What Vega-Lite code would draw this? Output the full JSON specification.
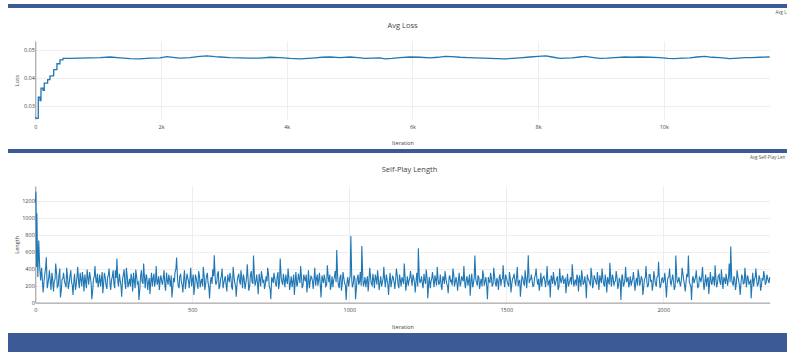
{
  "$schema": "https://vega.github.io/schema/vega-lite/v6.json",
  "background": "white",
  "padding": {"left": 8, "top": 4, "right": 0, "bottom": 0},
  "spacing": 0,
  "config": {
    "view": {"stroke": null},
    "font": "Open Sans",
    "title": {"font": "Open Sans", "fontSize": 7.5, "fontWeight": "normal", "color": "#444"},
    "axis": {
      "labelFont": "Open Sans", "titleFont": "Open Sans",
      "labelFontSize": 5.5, "titleFontSize": 5.5, "titleFontWeight": "normal",
      "labelColor": "#444", "titleColor": "#444",
      "gridColor": "#eeeeee", "gridWidth": 1,
      "ticks": false, "tickSize": 0,
      "domainColor": "#999999", "domainWidth": 1,
      "labelFlush": false, "labelOverlap": false
    }
  },
  "vconcat": [
    {
      "width": 779, "height": 4,
      "data": {"values": []},
      "mark": {"type": "text", "text": ""},
      "encoding": {},
      "view": {"fill": "#3C5A96", "stroke": null},
      "title": {"text": "Avg L", "orient": "bottom", "anchor": "start", "frame": "group", "dx": 767.5, "offset": 1.5, "fontSize": 4.5, "color": "#555"}
    },
    {
      "width": 779, "height": 78,
      "title": {"text": ["", "Avg Loss"], "lineHeight": 7.25, "offset": 12, "anchor": "middle", "frame": "group", "dx": 5},
      "data": {"values": [
        {"iter": 0, "loss": 0.0259}, {"iter": 18, "loss": 0.0255}, {"iter": 47, "loss": 0.0255}, {"iter": 48, "loss": 0.0331},
        {"iter": 74, "loss": 0.0331}, {"iter": 75, "loss": 0.0319}, {"iter": 90, "loss": 0.0319}, {"iter": 91, "loss": 0.0363},
        {"iter": 122, "loss": 0.0363}, {"iter": 123, "loss": 0.0355}, {"iter": 142, "loss": 0.0355}, {"iter": 143, "loss": 0.0381},
        {"iter": 196, "loss": 0.0381}, {"iter": 197, "loss": 0.0393}, {"iter": 233, "loss": 0.0393}, {"iter": 234, "loss": 0.0407},
        {"iter": 292, "loss": 0.0407}, {"iter": 293, "loss": 0.0429}, {"iter": 344, "loss": 0.0429}, {"iter": 345, "loss": 0.045},
        {"iter": 392, "loss": 0.045}, {"iter": 393, "loss": 0.0464}, {"iter": 440, "loss": 0.0464}, {"iter": 441, "loss": 0.0469},
        {"iter": 552, "loss": 0.0469}, {"iter": 711, "loss": 0.047}, {"iter": 870, "loss": 0.0471}, {"iter": 1029, "loss": 0.0472},
        {"iter": 1189, "loss": 0.0474}, {"iter": 1348, "loss": 0.0471}, {"iter": 1507, "loss": 0.0468}, {"iter": 1666, "loss": 0.0467},
        {"iter": 1825, "loss": 0.047}, {"iter": 1984, "loss": 0.0471}, {"iter": 2095, "loss": 0.0475}, {"iter": 2223, "loss": 0.0472},
        {"iter": 2302, "loss": 0.047}, {"iter": 2461, "loss": 0.0472}, {"iter": 2620, "loss": 0.0476}, {"iter": 2732, "loss": 0.0478},
        {"iter": 2859, "loss": 0.0475}, {"iter": 2939, "loss": 0.0474}, {"iter": 3098, "loss": 0.0472}, {"iter": 3257, "loss": 0.0471},
        {"iter": 3416, "loss": 0.047}, {"iter": 3575, "loss": 0.047}, {"iter": 3734, "loss": 0.0473}, {"iter": 3893, "loss": 0.0472},
        {"iter": 4052, "loss": 0.0469}, {"iter": 4211, "loss": 0.0467}, {"iter": 4339, "loss": 0.0469}, {"iter": 4450, "loss": 0.0471},
        {"iter": 4561, "loss": 0.0473}, {"iter": 4689, "loss": 0.0474}, {"iter": 4848, "loss": 0.0472}, {"iter": 5007, "loss": 0.0474},
        {"iter": 5134, "loss": 0.0472}, {"iter": 5246, "loss": 0.0469}, {"iter": 5357, "loss": 0.047}, {"iter": 5484, "loss": 0.0471},
        {"iter": 5564, "loss": 0.0467}, {"iter": 5675, "loss": 0.0469}, {"iter": 5802, "loss": 0.0472}, {"iter": 5962, "loss": 0.0474},
        {"iter": 6121, "loss": 0.0473}, {"iter": 6280, "loss": 0.0471}, {"iter": 6407, "loss": 0.0473}, {"iter": 6518, "loss": 0.0476},
        {"iter": 6630, "loss": 0.0475}, {"iter": 6757, "loss": 0.0473}, {"iter": 6884, "loss": 0.0472}, {"iter": 6996, "loss": 0.0471},
        {"iter": 7123, "loss": 0.047}, {"iter": 7234, "loss": 0.0469}, {"iter": 7346, "loss": 0.0468}, {"iter": 7473, "loss": 0.0467},
        {"iter": 7584, "loss": 0.0469}, {"iter": 7712, "loss": 0.0471}, {"iter": 7871, "loss": 0.0474}, {"iter": 7998, "loss": 0.0476},
        {"iter": 8125, "loss": 0.0478}, {"iter": 8221, "loss": 0.0474}, {"iter": 8348, "loss": 0.0469}, {"iter": 8428, "loss": 0.047},
        {"iter": 8539, "loss": 0.0471}, {"iter": 8666, "loss": 0.0474}, {"iter": 8746, "loss": 0.0476}, {"iter": 8857, "loss": 0.0473},
        {"iter": 8985, "loss": 0.0469}, {"iter": 9096, "loss": 0.047}, {"iter": 9223, "loss": 0.0472}, {"iter": 9382, "loss": 0.0474},
        {"iter": 9494, "loss": 0.0473}, {"iter": 9621, "loss": 0.0474}, {"iter": 9780, "loss": 0.0473}, {"iter": 9939, "loss": 0.0472},
        {"iter": 10066, "loss": 0.0469}, {"iter": 10178, "loss": 0.0468}, {"iter": 10289, "loss": 0.047}, {"iter": 10416, "loss": 0.0471},
        {"iter": 10527, "loss": 0.0474}, {"iter": 10654, "loss": 0.0476}, {"iter": 10766, "loss": 0.0473}, {"iter": 10893, "loss": 0.0472},
        {"iter": 11052, "loss": 0.0468}, {"iter": 11179, "loss": 0.047}, {"iter": 11291, "loss": 0.0472}, {"iter": 11402, "loss": 0.0472},
        {"iter": 11529, "loss": 0.0473}, {"iter": 11684, "loss": 0.0474}
      ]},
      "mark": {"type": "line", "color": "#1f77b4", "strokeWidth": 1.3},
      "encoding": {
        "x": {"field": "iter", "type": "quantitative",
              "scale": {"domain": [0, 11685], "nice": false, "zero": false, "range": [27.3, 761.7]},
              "axis": {"values": [0, 2000, 4000, 6000, 8000, 10000], "labelExpr": "datum.value === 0 ? '0' : format(datum.value / 1000, 'd') + 'k'", "title": ["Iteration", ""], "titleLineHeight": 2.5, "domain": false, "labelPadding": 5, "titlePadding": 11.3}},
        "y": {"field": "loss", "type": "quantitative",
              "scale": {"domain": [0.0253, 0.0531], "nice": false, "zero": false},
              "axis": {"values": [0.03, 0.04, 0.05], "format": ".2f", "title": "Loss", "offset": -27.3, "labelPadding": 1, "minExtent": 14, "maxExtent": 14, "titlePadding": 2}}
      }
    },
    {
      "width": 779, "height": 4,
      "data": {"values": []},
      "mark": {"type": "text", "text": ""},
      "encoding": {},
      "view": {"fill": "#3C5A96", "stroke": null},
      "title": {"text": "Avg Self-Play Len", "orient": "bottom", "anchor": "start", "frame": "group", "dx": 742, "offset": 1.5, "fontSize": 4.5, "color": "#555"}
    },
    {
      "width": 779, "height": 116.6,
      "title": {"text": ["", "Self-Play Length"], "lineHeight": 6.5, "offset": 13, "anchor": "middle", "frame": "group", "dx": 12},
      "data": {"values": [
        {"iter":0,"len":1180},{"iter":2,"len":1306},{"iter":4,"len":420},{"iter":5,"len":1050},{"iter":8,"len":300},{"iter":11,"len":730},{"iter":14,"len":420},{"iter":17,"len":260},{"iter":20,"len":410},
        {"iter":25,"len":120},{"iter":30,"len":330},{"iter":35,"len":532},{"iter":40,"len":210},{"iter":45,"len":380},{"iter":50,"len":150},{"iter":55,"len":290},{"iter":60,"len":240},{"iter":65,"len":460},{"iter":70,"len":180},{"iter":75,"len":310},{"iter":80,"len":60},{"iter":85,"len":270},{"iter":90,"len":350},{"iter":95,"len":220},
        {"iter":100,"len":410},{"iter":105,"len":160},{"iter":110,"len":300},{"iter":115,"len":250},{"iter":120,"len":90},{"iter":125,"len":340},{"iter":130,"len":200},{"iter":135,"len":420},{"iter":140,"len":170},{"iter":145,"len":280},{"iter":150,"len":360},{"iter":155,"len":130},{"iter":160,"len":250},{"iter":165,"len":390},{"iter":170,"len":210},{"iter":175,"len":310},{"iter":180,"len":40},{"iter":185,"len":270},{"iter":190,"len":430},{"iter":195,"len":230},
        {"iter":200,"len":180},{"iter":205,"len":330},{"iter":210,"len":260},{"iter":215,"len":110},{"iter":220,"len":350},{"iter":225,"len":210},{"iter":230,"len":290},{"iter":235,"len":400},{"iter":240,"len":150},{"iter":245,"len":300},{"iter":250,"len":230},{"iter":255,"len":380},{"iter":260,"len":520},{"iter":265,"len":190},{"iter":270,"len":270},{"iter":275,"len":70},{"iter":280,"len":320},{"iter":285,"len":240},{"iter":290,"len":410},{"iter":295,"len":180},
        {"iter":300,"len":280},{"iter":305,"len":340},{"iter":310,"len":130},{"iter":315,"len":260},{"iter":320,"len":390},{"iter":325,"len":220},{"iter":330,"len":30},{"iter":335,"len":300},{"iter":340,"len":250},{"iter":345,"len":460},{"iter":350,"len":170},{"iter":355,"len":310},{"iter":360,"len":230},{"iter":365,"len":100},{"iter":370,"len":350},{"iter":375,"len":280},{"iter":380,"len":190},{"iter":385,"len":430},{"iter":390,"len":240},{"iter":395,"len":150},
        {"iter":400,"len":320},{"iter":405,"len":210},{"iter":410,"len":380},{"iter":415,"len":140},{"iter":420,"len":270},{"iter":425,"len":330},{"iter":430,"len":190},{"iter":435,"len":60},{"iter":440,"len":290},{"iter":445,"len":360},{"iter":450,"len":530},{"iter":455,"len":200},{"iter":460,"len":310},{"iter":465,"len":250},{"iter":470,"len":120},{"iter":475,"len":380},{"iter":480,"len":220},{"iter":485,"len":300},{"iter":490,"len":170},{"iter":495,"len":410},
        {"iter":500,"len":260},{"iter":505,"len":90},{"iter":510,"len":330},{"iter":515,"len":230},{"iter":520,"len":370},{"iter":525,"len":180},{"iter":530,"len":280},{"iter":535,"len":420},{"iter":540,"len":150},{"iter":545,"len":310},{"iter":550,"len":240},{"iter":555,"len":50},{"iter":560,"len":300},{"iter":565,"len":390},{"iter":570,"len":556},{"iter":575,"len":210},{"iter":580,"len":330},{"iter":585,"len":160},{"iter":590,"len":270},{"iter":595,"len":400},
        {"iter":600,"len":220},{"iter":605,"len":310},{"iter":610,"len":130},{"iter":615,"len":280},{"iter":620,"len":350},{"iter":625,"len":190},{"iter":630,"len":420},{"iter":635,"len":240},{"iter":640,"len":70},{"iter":645,"len":300},{"iter":650,"len":260},{"iter":655,"len":380},{"iter":660,"len":170},{"iter":665,"len":290},{"iter":670,"len":210},{"iter":675,"len":450},{"iter":680,"len":140},{"iter":685,"len":320},{"iter":690,"len":250},{"iter":695,"len":555},
        {"iter":700,"len":200},{"iter":705,"len":330},{"iter":710,"len":100},{"iter":715,"len":280},{"iter":720,"len":370},{"iter":725,"len":230},{"iter":730,"len":160},{"iter":735,"len":310},{"iter":740,"len":410},{"iter":745,"len":190},{"iter":750,"len":40},{"iter":755,"len":280},{"iter":760,"len":350},{"iter":765,"len":220},{"iter":770,"len":300},{"iter":775,"len":160},{"iter":780,"len":520},{"iter":785,"len":250},{"iter":790,"len":340},{"iter":795,"len":180},
        {"iter":800,"len":270},{"iter":805,"len":400},{"iter":810,"len":150},{"iter":815,"len":310},{"iter":820,"len":240},{"iter":825,"len":90},{"iter":830,"len":360},{"iter":835,"len":210},{"iter":840,"len":290},{"iter":845,"len":430},{"iter":850,"len":170},{"iter":855,"len":330},{"iter":860,"len":250},{"iter":865,"len":120},{"iter":870,"len":380},{"iter":875,"len":230},{"iter":880,"len":300},{"iter":885,"len":160},{"iter":890,"len":410},{"iter":895,"len":270},
        {"iter":900,"len":200},{"iter":905,"len":350},{"iter":910,"len":60},{"iter":915,"len":280},{"iter":920,"len":330},{"iter":925,"len":190},{"iter":930,"len":440},{"iter":935,"len":240},{"iter":940,"len":150},{"iter":945,"len":310},{"iter":950,"len":260},{"iter":955,"len":370},{"iter":960,"len":619},{"iter":965,"len":210},{"iter":970,"len":290},{"iter":975,"len":140},{"iter":980,"len":360},{"iter":985,"len":230},{"iter":990,"len":30},{"iter":995,"len":300},
        {"iter":1000,"len":250},{"iter":1005,"len":784},{"iter":1010,"len":180},{"iter":1015,"len":320},{"iter":1020,"len":40},{"iter":1025,"len":280},{"iter":1030,"len":210},{"iter":1035,"len":360},{"iter":1040,"len":666},{"iter":1045,"len":190},{"iter":1050,"len":300},{"iter":1055,"len":250},{"iter":1060,"len":130},{"iter":1065,"len":410},{"iter":1070,"len":220},{"iter":1075,"len":340},{"iter":1080,"len":170},{"iter":1085,"len":290},{"iter":1090,"len":380},{"iter":1095,"len":150},
        {"iter":1100,"len":310},{"iter":1105,"len":230},{"iter":1110,"len":420},{"iter":1115,"len":180},{"iter":1120,"len":280},{"iter":1125,"len":90},{"iter":1130,"len":350},{"iter":1135,"len":240},{"iter":1140,"len":300},{"iter":1145,"len":160},{"iter":1150,"len":400},{"iter":1155,"len":220},{"iter":1160,"len":330},{"iter":1165,"len":190},{"iter":1170,"len":270},{"iter":1175,"len":460},{"iter":1180,"len":140},{"iter":1185,"len":310},{"iter":1190,"len":250},{"iter":1195,"len":370},
        {"iter":1200,"len":200},{"iter":1205,"len":290},{"iter":1210,"len":120},{"iter":1215,"len":350},{"iter":1220,"len":639},{"iter":1225,"len":230},{"iter":1230,"len":310},{"iter":1235,"len":170},{"iter":1240,"len":270},{"iter":1245,"len":390},{"iter":1250,"len":50},{"iter":1255,"len":300},{"iter":1260,"len":240},{"iter":1265,"len":360},{"iter":1270,"len":180},{"iter":1275,"len":280},{"iter":1280,"len":420},{"iter":1285,"len":210},{"iter":1290,"len":330},{"iter":1295,"len":150},
        {"iter":1300,"len":290},{"iter":1305,"len":370},{"iter":1310,"len":230},{"iter":1315,"len":110},{"iter":1320,"len":320},{"iter":1325,"len":260},{"iter":1330,"len":400},{"iter":1335,"len":190},{"iter":1340,"len":300},{"iter":1345,"len":140},{"iter":1350,"len":350},{"iter":1355,"len":220},{"iter":1360,"len":280},{"iter":1365,"len":430},{"iter":1370,"len":170},{"iter":1375,"len":310},{"iter":1380,"len":250},{"iter":1385,"len":80},{"iter":1390,"len":340},{"iter":1395,"len":210},
        {"iter":1400,"len":553},{"iter":1405,"len":240},{"iter":1410,"len":320},{"iter":1415,"len":160},{"iter":1420,"len":280},{"iter":1425,"len":380},{"iter":1430,"len":200},{"iter":1435,"len":300},{"iter":1440,"len":40},{"iter":1445,"len":260},{"iter":1450,"len":350},{"iter":1455,"len":190},{"iter":1460,"len":410},{"iter":1465,"len":230},{"iter":1470,"len":290},{"iter":1475,"len":150},{"iter":1480,"len":330},{"iter":1485,"len":270},{"iter":1490,"len":440},{"iter":1495,"len":180},
        {"iter":1500,"len":300},{"iter":1505,"len":220},{"iter":1510,"len":360},{"iter":1515,"len":120},{"iter":1520,"len":280},{"iter":1525,"len":340},{"iter":1530,"len":200},{"iter":1535,"len":420},{"iter":1540,"len":250},{"iter":1545,"len":70},{"iter":1550,"len":310},{"iter":1555,"len":230},{"iter":1560,"len":380},{"iter":1565,"len":170},{"iter":1570,"len":556},{"iter":1575,"len":260},{"iter":1580,"len":330},{"iter":1585,"len":190},{"iter":1590,"len":290},{"iter":1595,"len":400},
        {"iter":1600,"len":210},{"iter":1605,"len":140},{"iter":1610,"len":350},{"iter":1615,"len":270},{"iter":1620,"len":310},{"iter":1625,"len":180},{"iter":1630,"len":430},{"iter":1635,"len":240},{"iter":1640,"len":60},{"iter":1645,"len":290},{"iter":1650,"len":360},{"iter":1655,"len":200},{"iter":1660,"len":280},{"iter":1665,"len":150},{"iter":1670,"len":400},{"iter":1675,"len":230},{"iter":1680,"len":320},{"iter":1685,"len":260},{"iter":1690,"len":110},{"iter":1695,"len":340},
        {"iter":1700,"len":220},{"iter":1705,"len":300},{"iter":1710,"len":450},{"iter":1715,"len":190},{"iter":1720,"len":270},{"iter":1725,"len":330},{"iter":1730,"len":130},{"iter":1735,"len":260},{"iter":1740,"len":380},{"iter":1745,"len":210},{"iter":1750,"len":310},{"iter":1755,"len":50},{"iter":1760,"len":290},{"iter":1765,"len":240},{"iter":1770,"len":410},{"iter":1775,"len":170},{"iter":1780,"len":320},{"iter":1785,"len":250},{"iter":1790,"len":360},{"iter":1795,"len":150},
        {"iter":1800,"len":280},{"iter":1805,"len":400},{"iter":1810,"len":220},{"iter":1815,"len":330},{"iter":1820,"len":120},{"iter":1825,"len":260},{"iter":1830,"len":470},{"iter":1835,"len":190},{"iter":1840,"len":300},{"iter":1845,"len":240},{"iter":1850,"len":370},{"iter":1855,"len":160},{"iter":1860,"len":290},{"iter":1865,"len":30},{"iter":1870,"len":330},{"iter":1875,"len":210},{"iter":1880,"len":420},{"iter":1885,"len":260},{"iter":1890,"len":180},{"iter":1895,"len":310},
        {"iter":1900,"len":240},{"iter":1905,"len":360},{"iter":1910,"len":140},{"iter":1915,"len":290},{"iter":1920,"len":390},{"iter":1925,"len":200},{"iter":1930,"len":310},{"iter":1935,"len":90},{"iter":1940,"len":270},{"iter":1945,"len":430},{"iter":1950,"len":180},{"iter":1955,"len":330},{"iter":1960,"len":250},{"iter":1965,"len":140},{"iter":1970,"len":370},{"iter":1975,"len":220},{"iter":1980,"len":300},{"iter":1985,"len":480},{"iter":1990,"len":170},{"iter":1995,"len":280},
        {"iter":2000,"len":230},{"iter":2005,"len":350},{"iter":2010,"len":60},{"iter":2015,"len":290},{"iter":2020,"len":400},{"iter":2025,"len":210},{"iter":2030,"len":330},{"iter":2035,"len":150},{"iter":2040,"len":555},{"iter":2045,"len":240},{"iter":2050,"len":300},{"iter":2055,"len":190},{"iter":2060,"len":410},{"iter":2065,"len":270},{"iter":2070,"len":130},{"iter":2075,"len":340},{"iter":2080,"len":555},{"iter":2085,"len":220},{"iter":2090,"len":30},{"iter":2095,"len":310},
        {"iter":2100,"len":260},{"iter":2105,"len":380},{"iter":2110,"len":170},{"iter":2115,"len":300},{"iter":2120,"len":240},{"iter":2125,"len":420},{"iter":2130,"len":150},{"iter":2135,"len":330},{"iter":2140,"len":270},{"iter":2145,"len":100},{"iter":2150,"len":360},{"iter":2155,"len":210},{"iter":2160,"len":290},{"iter":2165,"len":440},{"iter":2170,"len":180},{"iter":2175,"len":310},{"iter":2180,"len":250},{"iter":2185,"len":390},{"iter":2190,"len":160},{"iter":2195,"len":280},
        {"iter":2200,"len":340},{"iter":2205,"len":200},{"iter":2210,"len":460},{"iter":2215,"len":659},{"iter":2220,"len":230},{"iter":2225,"len":310},{"iter":2230,"len":150},{"iter":2235,"len":380},{"iter":2240,"len":260},{"iter":2245,"len":90},{"iter":2250,"len":330},{"iter":2255,"len":220},{"iter":2260,"len":410},{"iter":2265,"len":180},{"iter":2270,"len":300},{"iter":2275,"len":240},{"iter":2280,"len":50},{"iter":2285,"len":350},{"iter":2290,"len":270},{"iter":2295,"len":400},
        {"iter":2300,"len":190},{"iter":2305,"len":320},{"iter":2310,"len":140},{"iter":2315,"len":290},{"iter":2320,"len":370},{"iter":2325,"len":210},{"iter":2330,"len":330},{"iter":2335,"len":250},{"iter":2339,"len":300},
        {"iter":28,"len":260},{"iter":33,"len":410},{"iter":38,"len":170},{"iter":43,"len":300},{"iter":48,"len":240},{"iter":53,"len":350},{"iter":58,"len":130},{"iter":63,"len":280},{"iter":68,"len":330},{"iter":73,"len":200},{"iter":78,"len":400},{"iter":83,"len":150},{"iter":88,"len":290},{"iter":93,"len":250},{"iter":98,"len":180},
        {"iter":103,"len":290},{"iter":108,"len":230},{"iter":113,"len":380},{"iter":118,"len":200},{"iter":123,"len":260},{"iter":128,"len":150},{"iter":133,"len":310},{"iter":138,"len":240},{"iter":143,"len":350},{"iter":148,"len":190},{"iter":153,"len":270},{"iter":158,"len":330},{"iter":163,"len":170},{"iter":168,"len":280},{"iter":173,"len":360},{"iter":178,"len":220},{"iter":183,"len":150},{"iter":188,"len":310},{"iter":193,"len":260},{"iter":198,"len":340},
        {"iter":203,"len":250},{"iter":208,"len":190},{"iter":213,"len":360},{"iter":218,"len":240},{"iter":223,"len":290},{"iter":228,"len":160},{"iter":233,"len":330},{"iter":238,"len":220},{"iter":243,"len":270},{"iter":248,"len":380},{"iter":253,"len":170},{"iter":258,"len":290},{"iter":263,"len":240},{"iter":268,"len":340},{"iter":273,"len":200},{"iter":278,"len":280},{"iter":283,"len":390},{"iter":288,"len":160},{"iter":293,"len":300},{"iter":298,"len":230},
        {"iter":303,"len":190},{"iter":308,"len":270},{"iter":313,"len":350},{"iter":318,"len":170},{"iter":323,"len":300},{"iter":328,"len":240},{"iter":333,"len":160},{"iter":338,"len":380},{"iter":343,"len":220},{"iter":348,"len":280},{"iter":353,"len":330},{"iter":358,"len":150},{"iter":363,"len":290},{"iter":368,"len":250},{"iter":373,"len":190},{"iter":378,"len":340},{"iter":383,"len":260},{"iter":388,"len":210},{"iter":393,"len":310},{"iter":398,"len":270},
        {"iter":403,"len":240},{"iter":408,"len":300},{"iter":413,"len":190},{"iter":418,"len":350},{"iter":423,"len":210},{"iter":428,"len":260},{"iter":433,"len":320},{"iter":438,"len":180},{"iter":443,"len":240},{"iter":448,"len":400},{"iter":453,"len":280},{"iter":458,"len":170},{"iter":463,"len":330},{"iter":468,"len":200},{"iter":473,"len":290},{"iter":478,"len":160},{"iter":483,"len":340},{"iter":488,"len":250},{"iter":493,"len":300},{"iter":498,"len":190},
        {"iter":503,"len":330},{"iter":508,"len":200},{"iter":513,"len":280},{"iter":518,"len":160},{"iter":523,"len":310},{"iter":528,"len":250},{"iter":533,"len":190},{"iter":538,"len":300},{"iter":543,"len":230},{"iter":548,"len":350},{"iter":553,"len":170},{"iter":558,"len":260},{"iter":563,"len":220},{"iter":568,"len":310},{"iter":573,"len":280},{"iter":578,"len":240},{"iter":583,"len":370},{"iter":588,"len":200},{"iter":593,"len":320},{"iter":598,"len":170},
        {"iter":603,"len":280},{"iter":608,"len":200},{"iter":613,"len":330},{"iter":618,"len":240},{"iter":623,"len":290},{"iter":628,"len":150},{"iter":633,"len":300},{"iter":638,"len":190},{"iter":643,"len":250},{"iter":648,"len":340},{"iter":653,"len":210},{"iter":658,"len":280},{"iter":663,"len":330},{"iter":668,"len":160},{"iter":673,"len":300},{"iter":678,"len":260},{"iter":683,"len":200},{"iter":688,"len":370},{"iter":693,"len":220},{"iter":698,"len":300},
        {"iter":703,"len":260},{"iter":708,"len":210},{"iter":713,"len":340},{"iter":718,"len":190},{"iter":723,"len":300},{"iter":728,"len":270},{"iter":733,"len":220},{"iter":738,"len":250},{"iter":743,"len":330},{"iter":748,"len":160},{"iter":753,"len":300},{"iter":758,"len":230},{"iter":763,"len":280},{"iter":768,"len":190},{"iter":773,"len":360},{"iter":778,"len":240},{"iter":783,"len":300},{"iter":788,"len":210},{"iter":793,"len":260},{"iter":798,"len":330},
        {"iter":803,"len":220},{"iter":808,"len":280},{"iter":813,"len":240},{"iter":818,"len":180},{"iter":823,"len":330},{"iter":828,"len":260},{"iter":833,"len":190},{"iter":838,"len":340},{"iter":843,"len":230},{"iter":848,"len":290},{"iter":853,"len":210},{"iter":858,"len":280},{"iter":863,"len":330},{"iter":868,"len":240},{"iter":873,"len":170},{"iter":878,"len":310},{"iter":883,"len":250},{"iter":888,"len":290},{"iter":893,"len":200},{"iter":898,"len":330},
        {"iter":903,"len":280},{"iter":908,"len":190},{"iter":913,"len":320},{"iter":918,"len":230},{"iter":923,"len":270},{"iter":928,"len":210},{"iter":933,"len":300},{"iter":938,"len":330},{"iter":943,"len":220},{"iter":948,"len":180},{"iter":953,"len":310},{"iter":958,"len":240},{"iter":963,"len":300},{"iter":968,"len":170},{"iter":973,"len":330},{"iter":978,"len":240},{"iter":983,"len":280},{"iter":988,"len":200},{"iter":993,"len":250},{"iter":998,"len":190},
        {"iter":1003,"len":320},{"iter":1008,"len":260},{"iter":1013,"len":230},{"iter":1018,"len":280},{"iter":1023,"len":190},{"iter":1028,"len":330},{"iter":1033,"len":250},{"iter":1038,"len":200},{"iter":1043,"len":300},{"iter":1048,"len":240},{"iter":1053,"len":180},{"iter":1058,"len":310},{"iter":1063,"len":260},{"iter":1068,"len":290},{"iter":1073,"len":200},{"iter":1078,"len":260},{"iter":1083,"len":330},{"iter":1088,"len":210},{"iter":1093,"len":270},{"iter":1098,"len":240},
        {"iter":1103,"len":190},{"iter":1108,"len":290},{"iter":1113,"len":250},{"iter":1118,"len":330},{"iter":1123,"len":210},{"iter":1128,"len":270},{"iter":1133,"len":180},{"iter":1138,"len":310},{"iter":1143,"len":230},{"iter":1148,"len":280},{"iter":1153,"len":310},{"iter":1158,"len":170},{"iter":1163,"len":260},{"iter":1168,"len":300},{"iter":1173,"len":220},{"iter":1178,"len":290},{"iter":1183,"len":240},{"iter":1188,"len":200},{"iter":1193,"len":300},{"iter":1198,"len":260},
        {"iter":1203,"len":330},{"iter":1208,"len":230},{"iter":1213,"len":270},{"iter":1218,"len":190},{"iter":1223,"len":300},{"iter":1228,"len":260},{"iter":1233,"len":210},{"iter":1238,"len":340},{"iter":1243,"len":220},{"iter":1248,"len":280},{"iter":1253,"len":240},{"iter":1258,"len":170},{"iter":1263,"len":290},{"iter":1268,"len":250},{"iter":1273,"len":320},{"iter":1278,"len":200},{"iter":1283,"len":270},{"iter":1288,"len":240},{"iter":1293,"len":190},{"iter":1298,"len":310},
        {"iter":1303,"len":220},{"iter":1308,"len":280},{"iter":1313,"len":190},{"iter":1318,"len":300},{"iter":1323,"len":240},{"iter":1328,"len":200},{"iter":1333,"len":320},{"iter":1338,"len":250},{"iter":1343,"len":230},{"iter":1348,"len":280},{"iter":1353,"len":190},{"iter":1358,"len":310},{"iter":1363,"len":250},{"iter":1368,"len":220},{"iter":1373,"len":280},{"iter":1378,"len":200},{"iter":1383,"len":330},{"iter":1388,"len":260},{"iter":1393,"len":180},{"iter":1398,"len":300},
        {"iter":1403,"len":270},{"iter":1408,"len":200},{"iter":1413,"len":290},{"iter":1418,"len":240},{"iter":1423,"len":190},{"iter":1428,"len":310},{"iter":1433,"len":260},{"iter":1438,"len":180},{"iter":1443,"len":300},{"iter":1448,"len":230},{"iter":1453,"len":280},{"iter":1458,"len":220},{"iter":1463,"len":300},{"iter":1468,"len":190},{"iter":1473,"len":250},{"iter":1478,"len":310},{"iter":1483,"len":200},{"iter":1488,"len":280},{"iter":1493,"len":240},{"iter":1498,"len":330},
        {"iter":1503,"len":250},{"iter":1508,"len":190},{"iter":1513,"len":280},{"iter":1518,"len":230},{"iter":1523,"len":300},{"iter":1528,"len":240},{"iter":1533,"len":310},{"iter":1538,"len":190},{"iter":1543,"len":260},{"iter":1548,"len":220},{"iter":1553,"len":290},{"iter":1558,"len":200},{"iter":1563,"len":270},{"iter":1568,"len":320},{"iter":1573,"len":230},{"iter":1578,"len":280},{"iter":1583,"len":240},{"iter":1588,"len":200},{"iter":1593,"len":330},{"iter":1598,"len":260},
        {"iter":1603,"len":280},{"iter":1608,"len":230},{"iter":1613,"len":190},{"iter":1618,"len":300},{"iter":1623,"len":250},{"iter":1628,"len":290},{"iter":1633,"len":200},{"iter":1638,"len":260},{"iter":1643,"len":320},{"iter":1648,"len":220},{"iter":1653,"len":270},{"iter":1658,"len":240},{"iter":1663,"len":310},{"iter":1668,"len":190},{"iter":1673,"len":260},{"iter":1678,"len":300},{"iter":1683,"len":220},{"iter":1688,"len":280},{"iter":1693,"len":250},{"iter":1698,"len":190},
        {"iter":1703,"len":270},{"iter":1708,"len":210},{"iter":1713,"len":300},{"iter":1718,"len":240},{"iter":1723,"len":200},{"iter":1728,"len":280},{"iter":1733,"len":320},{"iter":1738,"len":190},{"iter":1743,"len":290},{"iter":1748,"len":240},{"iter":1753,"len":210},{"iter":1758,"len":330},{"iter":1763,"len":260},{"iter":1768,"len":200},{"iter":1773,"len":300},{"iter":1778,"len":230},{"iter":1783,"len":280},{"iter":1788,"len":210},{"iter":1793,"len":260},{"iter":1798,"len":320},
        {"iter":1803,"len":230},{"iter":1808,"len":280},{"iter":1813,"len":190},{"iter":1818,"len":250},{"iter":1823,"len":300},{"iter":1828,"len":210},{"iter":1833,"len":270},{"iter":1838,"len":330},{"iter":1843,"len":200},{"iter":1848,"len":260},{"iter":1853,"len":290},{"iter":1858,"len":220},{"iter":1863,"len":250},{"iter":1868,"len":310},{"iter":1873,"len":190},{"iter":1878,"len":280},{"iter":1883,"len":240},{"iter":1888,"len":300},{"iter":1893,"len":230},{"iter":1898,"len":200},
        {"iter":1903,"len":290},{"iter":1908,"len":220},{"iter":1913,"len":260},{"iter":1918,"len":200},{"iter":1923,"len":310},{"iter":1928,"len":250},{"iter":1933,"len":270},{"iter":1938,"len":190},{"iter":1943,"len":300},{"iter":1948,"len":240},{"iter":1953,"len":210},{"iter":1958,"len":330},{"iter":1963,"len":260},{"iter":1968,"len":230},{"iter":1973,"len":280},{"iter":1978,"len":190},{"iter":1983,"len":310},{"iter":1988,"len":250},{"iter":1993,"len":220},{"iter":1998,"len":290},
        {"iter":2003,"len":270},{"iter":2008,"len":200},{"iter":2013,"len":250},{"iter":2018,"len":310},{"iter":2023,"len":230},{"iter":2028,"len":280},{"iter":2033,"len":240},{"iter":2038,"len":190},{"iter":2043,"len":300},{"iter":2048,"len":260},{"iter":2053,"len":220},{"iter":2058,"len":280},{"iter":2063,"len":330},{"iter":2068,"len":200},{"iter":2073,"len":260},{"iter":2078,"len":300},{"iter":2083,"len":240},{"iter":2088,"len":190},{"iter":2093,"len":280},{"iter":2098,"len":230},
        {"iter":2103,"len":300},{"iter":2108,"len":240},{"iter":2113,"len":200},{"iter":2118,"len":280},{"iter":2123,"len":320},{"iter":2128,"len":220},{"iter":2133,"len":260},{"iter":2138,"len":190},{"iter":2143,"len":300},{"iter":2148,"len":250},{"iter":2153,"len":230},{"iter":2158,"len":310},{"iter":2163,"len":200},{"iter":2168,"len":270},{"iter":2173,"len":240},{"iter":2178,"len":330},{"iter":2183,"len":210},{"iter":2188,"len":260},{"iter":2193,"len":300},{"iter":2198,"len":220},
        {"iter":2203,"len":260},{"iter":2208,"len":310},{"iter":2213,"len":240},{"iter":2218,"len":280},{"iter":2223,"len":200},{"iter":2228,"len":270},{"iter":2233,"len":230},{"iter":2238,"len":300},{"iter":2243,"len":190},{"iter":2248,"len":250},{"iter":2253,"len":290},{"iter":2258,"len":230},{"iter":2263,"len":270},{"iter":2268,"len":320},{"iter":2273,"len":210},{"iter":2278,"len":260},{"iter":2283,"len":240},{"iter":2288,"len":190},{"iter":2293,"len":300},{"iter":2298,"len":250},
        {"iter":2303,"len":230},{"iter":2308,"len":280},{"iter":2313,"len":210},{"iter":2318,"len":260},{"iter":2323,"len":300},{"iter":2328,"len":240},{"iter":2333,"len":280},{"iter":2337,"len":230}
      ]},
      "mark": {"type": "line", "color": "#1f77b4", "strokeWidth": 1.1},
      "encoding": {
        "x": {"field": "iter", "type": "quantitative",
              "scale": {"domain": [0, 2339], "nice": false, "zero": false, "range": [27.3, 761.7]},
              "axis": {"values": [0, 500, 1000, 1500, 2000], "format": "d", "title": ["Iteration", ""], "titleLineHeight": 2.2, "domain": true, "labelPadding": 5, "titlePadding": 11.7}},
        "y": {"field": "len", "type": "quantitative",
              "scale": {"domain": [0, 1372], "nice": false, "zero": false},
              "axis": {"values": [0, 200, 400, 600, 800, 1000, 1200], "format": "d", "title": "Length", "offset": -27.3, "labelPadding": 1, "minExtent": 14, "maxExtent": 14, "titlePadding": 2}}
      }
    },
    {
      "width": 779, "height": 19,
      "data": {"values": []},
      "mark": {"type": "text", "text": ""},
      "encoding": {},
      "view": {"fill": "#3C5A96", "stroke": null}
    }
  ]
}
